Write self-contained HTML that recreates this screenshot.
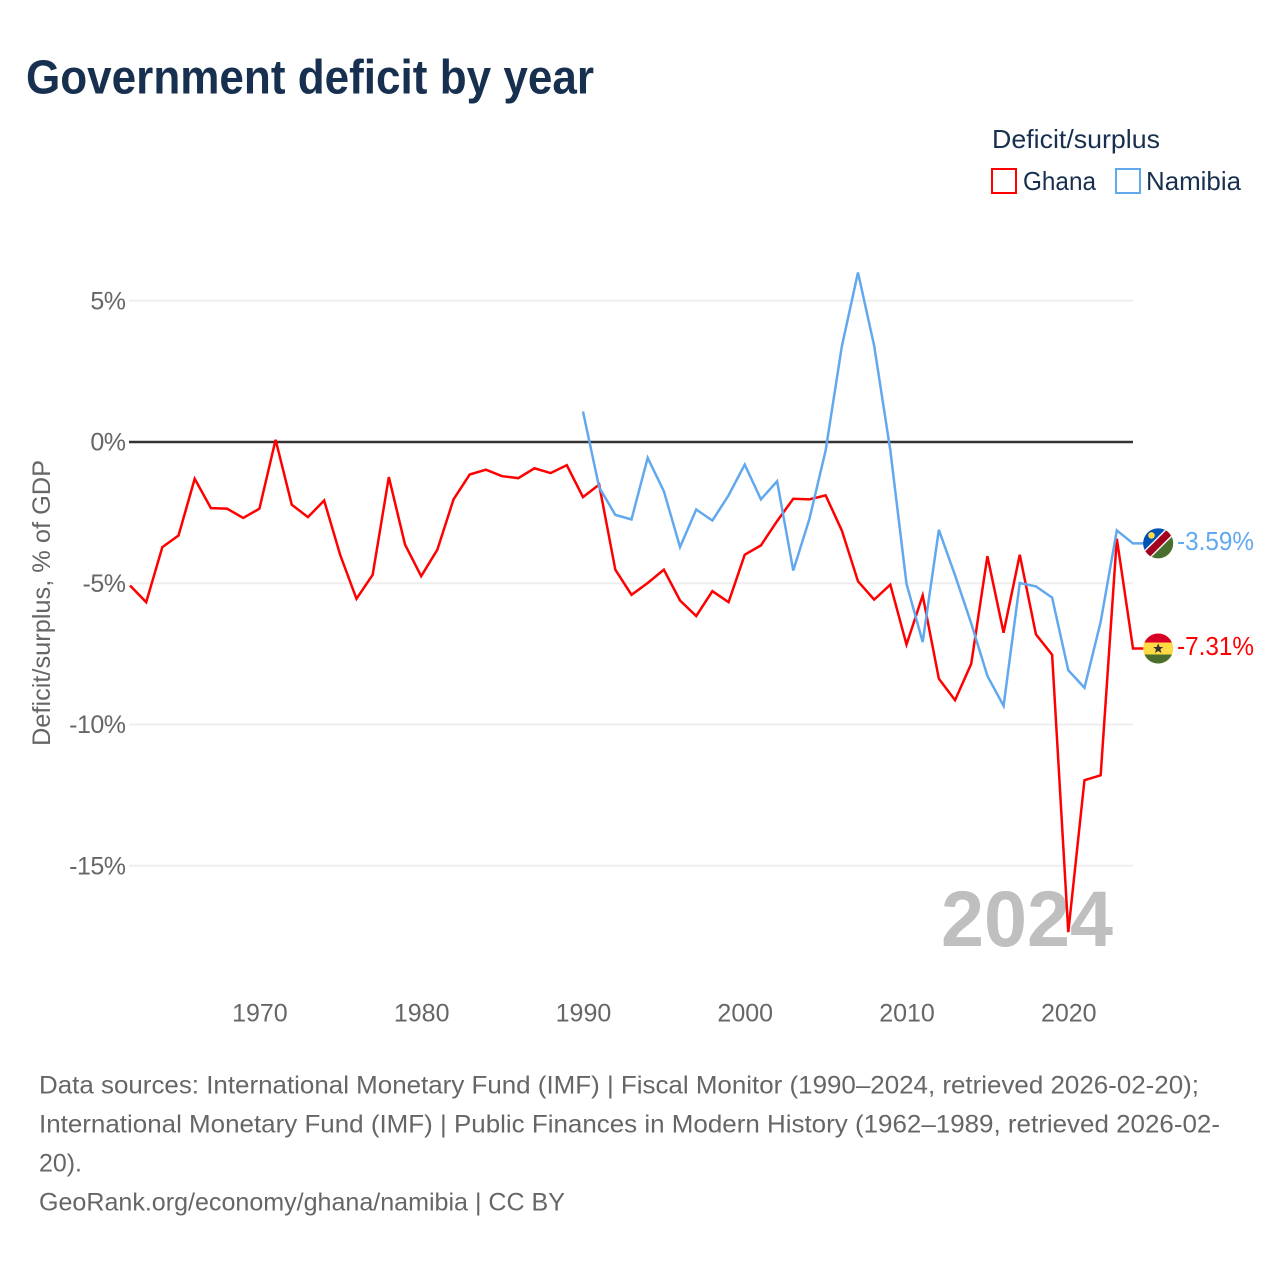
<!DOCTYPE html>
<html lang="en">
<head>
<meta charset="utf-8">
<title>Government deficit by year</title>
<style>
html,body{margin:0;padding:0;background:#fff;}
svg{display:block;font-family:"Liberation Sans",sans-serif;}
</style>
</head>
<body>
<svg id="chart" xmlns="http://www.w3.org/2000/svg" width="1280" height="1280" viewBox="0 0 1280 1280">
  <rect x="0" y="0" width="1280" height="1280" fill="#fff"/>
  <text x="26" y="93.5" font-size="48" font-weight="700" fill="#18304f" textLength="568" lengthAdjust="spacingAndGlyphs">Government deficit by year</text>

  <text x="992" y="148" font-size="26" fill="#18304f" textLength="168" lengthAdjust="spacingAndGlyphs">Deficit/surplus</text>
  <rect x="992" y="169" width="24" height="24" fill="none" stroke="#ff0000" stroke-width="2"/>
  <text x="1023" y="190" font-size="26" fill="#18304f" textLength="73" lengthAdjust="spacingAndGlyphs">Ghana</text>
  <rect x="1116" y="169" width="24" height="24" fill="none" stroke="#62a8ee" stroke-width="2"/>
  <text x="1146" y="190" font-size="26" fill="#18304f" textLength="95" lengthAdjust="spacingAndGlyphs">Namibia</text>

  <g id="grid"></g>
  <g id="yticks"></g>
  <g id="xticks"></g>
  <text transform="translate(50,603) rotate(-90)" text-anchor="middle" font-size="25" fill="#666" textLength="286" lengthAdjust="spacingAndGlyphs">Deficit/surplus, % of GDP</text>
  <text x="941" y="946" font-size="79" font-weight="700" fill="#bfbfbf" textLength="172" lengthAdjust="spacingAndGlyphs">2024</text>

  <g id="series"></g>

  <defs>
    <clipPath id="flag-clip"><circle cx="0" cy="0" r="15"/></clipPath>
  </defs>

  <g id="flag-namibia" clip-path="url(#flag-clip)">
    <rect x="-16" y="-16" width="32" height="32" fill="#496e2d"/>
    <polygon points="-16,-16 16,-16 -16,16" fill="#0052b4"/>
    <line x1="-16" y1="16" x2="16" y2="-16" stroke="#f0f0f0" stroke-width="10"/>
    <line x1="-16" y1="16" x2="16" y2="-16" stroke="#a2001d" stroke-width="7"/>
    <circle cx="-6.7" cy="-8" r="3.3" fill="#ffda44"/>
  </g>
  <g id="flag-ghana" clip-path="url(#flag-clip)">
    <rect x="-16" y="-16" width="32" height="32" fill="#ffda44"/>
    <rect x="-16" y="-16" width="32" height="10" fill="#d80027"/>
    <rect x="-16" y="6" width="32" height="10" fill="#496e2d"/>
    <polygon points="0,-5 1.5,-1.5 5,-1.5 2.2,0.8 3.2,4.5 0,2.4 -3.2,4.5 -2.2,0.8 -5,-1.5 -1.5,-1.5" fill="#333"/>
  </g>
  <g id="end-labels"></g>

  <g font-size="25" fill="#666">
    <text x="39" y="1093.5" textLength="1160" lengthAdjust="spacingAndGlyphs">Data sources: International Monetary Fund (IMF) | Fiscal Monitor (1990–2024, retrieved 2026-02-20);</text>
    <text x="39" y="1132.5" textLength="1181" lengthAdjust="spacingAndGlyphs">International Monetary Fund (IMF) | Public Finances in Modern History (1962–1989, retrieved 2026-02-</text>
    <text x="39" y="1171.5" textLength="43" lengthAdjust="spacingAndGlyphs">20).</text>
    <text x="39" y="1210.5" textLength="526" lengthAdjust="spacingAndGlyphs">GeoRank.org/economy/ghana/namibia | CC BY</text>
  </g>
</svg>
<script>
const ghanaStartYear = 1962;
const namibiaStartYear = 1990;
const ghanaValues = [-5.08,-5.67,-3.72,-3.31,-1.30,-2.34,-2.36,-2.69,-2.36,0.08,-2.22,-2.66,-2.07,-4.01,-5.55,-4.70,-1.24,-3.63,-4.75,-3.81,-2.03,-1.15,-0.98,-1.21,-1.28,-0.93,-1.10,-0.82,-1.95,-1.51,-4.52,-5.41,-4.99,-4.52,-5.61,-6.16,-5.28,-5.67,-3.99,-3.66,-2.80,-2.01,-2.03,-1.89,-3.13,-4.93,-5.58,-5.05,-7.17,-5.43,-8.38,-9.14,-7.85,-4.04,-6.75,-3.99,-6.81,-7.53,-17.35,-11.97,-11.80,-3.42,-7.31];
const namibiaValues = [1.08,-1.60,-2.58,-2.74,-0.56,-1.74,-3.72,-2.39,-2.78,-1.89,-0.80,-2.03,-1.39,-4.55,-2.72,-0.30,3.38,6.00,3.41,-0.30,-5.02,-7.08,-3.11,-4.72,-6.42,-8.28,-9.34,-4.99,-5.11,-5.51,-8.08,-8.70,-6.37,-3.13,-3.59];
const yTickValues = [5,0,-5,-10,-15];
const xTickYears = [1970,1980,1990,2000,2010,2020];

const NS = 'http://www.w3.org/2000/svg';
const x = function (year) { return 130 + (year - 1962) * (1133 - 130) / 62; };
const y = function (value) { return 442 - value * 28.25; };
const make = function (tag, parent, attrs, text) {
  const el = document.createElementNS(NS, tag);
  Object.keys(attrs).forEach(function (k) { el.setAttribute(k, attrs[k]); });
  if (text !== undefined) el.textContent = text;
  parent.appendChild(el);
  return el;
};

const grid = document.getElementById('grid');
const yticks = document.getElementById('yticks');
yTickValues.forEach(function (v) {
  if (v === 0) return;
  const line = make('line', grid, {x1: 129, x2: x(2024), y1: y(v), y2: y(v), stroke: '#eeeeee', 'stroke-width': 2});
  
  
});
const zero = make('line', grid, {x1: 129, x2: x(2024), y1: y(0), y2: y(0), stroke: '#333', 'stroke-width': 2.5});


yTickValues.forEach(function (v) {
  const t = make('text', yticks, {x: 125.5, y: y(v) + 8.7, 'text-anchor': 'end', 'font-size': 25, 'letter-spacing': '-0.5', fill: '#666'}, v + '%');
  
  
});

const xticks = document.getElementById('xticks');
xTickYears.forEach(function (yr) {
  const t = make('text', xticks, {x: x(yr) + 0.5, y: 1021.5, 'text-anchor': 'middle', 'font-size': 25, fill: '#666'}, String(yr));
  
  
});

const seriesGroup = document.getElementById('series');
const pathFor = function (values, start) {
  return values.map(function (v, i) {
    return (i ? 'L' : 'M') + x(start + i).toFixed(2) + ' ' + y(v).toFixed(2);
  }).join(' ');
};
const lastOf = function (values) { return values[values.length - 1]; };

const redPath = make('path', seriesGroup, {d: pathFor(ghanaValues, ghanaStartYear) + ' H1150', fill: 'none', stroke: '#ff0000', 'stroke-width': 2.5, 'stroke-linejoin': 'miter'});


const bluePath = make('path', seriesGroup, {d: pathFor(namibiaValues, namibiaStartYear) + ' H1150', fill: 'none', stroke: '#62a8ee', 'stroke-width': 2.5, 'stroke-linejoin': 'miter'});



document.getElementById('flag-namibia').setAttribute('transform', 'translate(1158.2,' + y(lastOf(namibiaValues)) + ')');
document.getElementById('flag-ghana').setAttribute('transform', 'translate(1158.2,' + y(lastOf(ghanaValues)) + ')');

const endLabels = document.getElementById('end-labels');
const nLabel = make('text', endLabels, {x: 1177, y: y(lastOf(namibiaValues)) + 6.7, 'font-size': 26, fill: '#62a8ee', textLength: 77, lengthAdjust: 'spacingAndGlyphs'}, lastOf(namibiaValues).toFixed(2) + '%');


const gLabel = make('text', endLabels, {x: 1177, y: y(lastOf(ghanaValues)) + 6.7, 'font-size': 26, fill: '#ff0000', textLength: 77, lengthAdjust: 'spacingAndGlyphs'}, lastOf(ghanaValues).toFixed(2) + '%');


</script>
</body>
</html>
